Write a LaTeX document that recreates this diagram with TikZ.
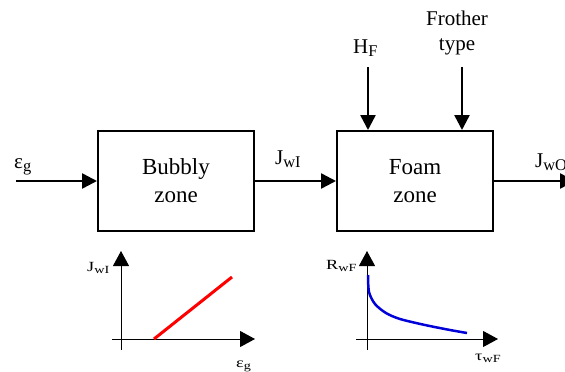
\documentclass[tikz,border=0pt]{standalone}
\usepackage{fontspec}
\setmainfont{Liberation Serif}
\usetikzlibrary{positioning,arrows.meta}

% subscript at a fixed ratio of the current size
\newcommand{\zsub}[1]{\raisebox{-0.18em}{\scalebox{0.78}{#1}}}
% axis labels are set a little wider
\newcommand{\axlbl}[1]{\scalebox{1.3}[1]{#1}}

\begin{document}
\begin{tikzpicture}[
        x=1pt, y=-1pt,
        node distance=81pt,
        zone/.style={rectangle, draw=black, line width=2pt, minimum width=156pt, minimum height=100pt, align=center, font=\fontsize{23}{28}\selectfont},
        lbl/.style={inner sep=0pt, font=\fontsize{21}{25}\selectfont},
        small/.style={inner sep=0pt, font=\fontsize{14}{16}\selectfont},
        arrow/.style={line width=2.5pt, -{Triangle[length=15pt,width=15pt]}},
        axis/.style={line width=1pt, -{Triangle[length=15pt,width=16pt]}}
    ]
        \useasboundingbox (0,0) rectangle (565,372);

        % Zones
        \node (bubbly) [zone] at (176,181) {Bubbly\\zone};
        \node (foam) [zone, right=of bubbly] {Foam\\zone};

        % Inputs and outputs
        \coordinate (gas) at (16,181);
        \coordinate (out) at (575,181);
        \coordinate (hf) at (368,67);
        \coordinate (frother) at (462,67);

        \draw[arrow] (gas) -- (bubbly);
        \draw[arrow] (bubbly) -- (foam);
        \draw[arrow] (foam) -- (out);
        \draw[arrow] (hf) -- (hf |- foam.north);
        \draw[arrow] (frother) -- (frother |- foam.north);

        % Labels
        \node (epsg) [lbl, anchor=base west] at (14,168) {ε\zsub{g}};
        \node (jwi) [lbl, anchor=base west] at (275,164) {J\zsub{wI}};
        \node (jwo) [lbl, anchor=base west] at (535,167) {J\zsub{wO}};
        \node (hflab) [lbl, anchor=base west] at (353,53) {H\zsub{F}};
        \node (frlab) [lbl, align=center] at (457,33) {Frother\\type};

        % Bubbly zone curve
        \draw[axis] (112,339) -- (255,339);
        \draw[axis] (121,350) -- (121,251);
        \draw[red, line width=3pt] (154,339) -- (232,277);
        \node (jwiax) [small, anchor=base west] at (87,271) {\axlbl{J\zsub{wI}}};
        \node (epsax) [small, anchor=base west] at (236,367) {\axlbl{ε\zsub{g}}};

        % Foam zone curve
        \draw[axis] (356,339) -- (498,339);
        \draw[axis] (367,350) -- (367,251);
        \draw[blue!85!black, line width=2.5pt] plot[smooth] coordinates {(368,275) (369,292) (375,304) (386,313) (400,319) (425,325) (450,330) (467,333)};
        \node (rwf) [small, anchor=base west] at (326,269) {\axlbl{R\zsub{wF}}};
        \node (twf) [small, anchor=base west] at (475,360) {\axlbl{τ\zsub{wF}}};
    \end{tikzpicture}
\end{document}
